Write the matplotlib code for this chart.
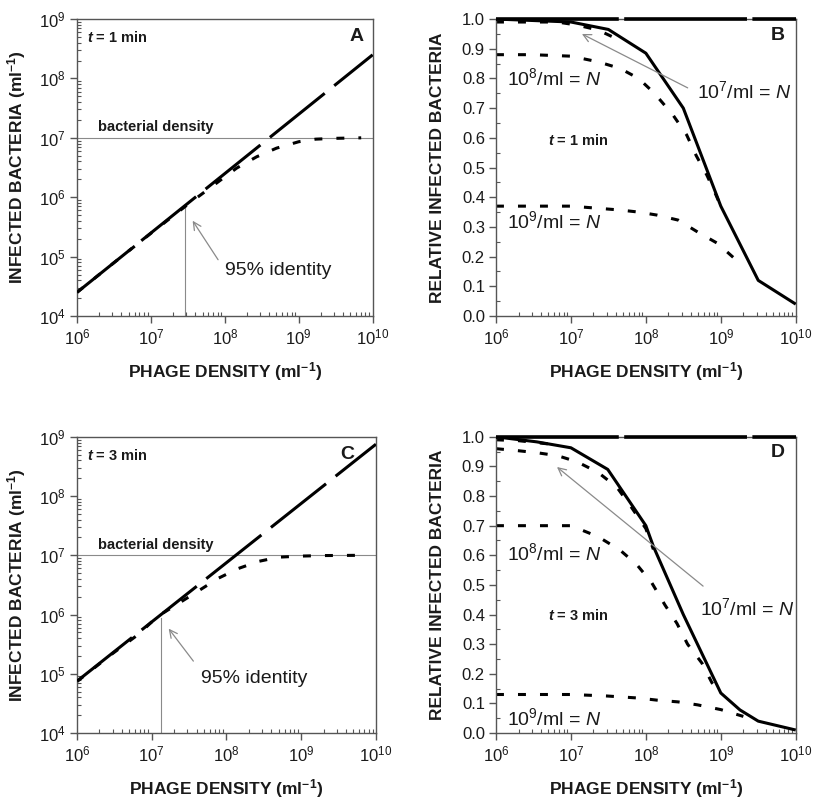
import matplotlib
matplotlib.use("Agg")
import matplotlib.pyplot as plt
from matplotlib.ticker import MultipleLocator, LogLocator, NullFormatter

plt.rcParams['font.family'] = ['Liberation Sans', 'DejaVu Sans']
plt.rcParams['mathtext.fontset'] = 'custom'
plt.rcParams['mathtext.rm'] = 'Liberation Sans'
plt.rcParams['mathtext.it'] = 'Liberation Sans:italic'
plt.rcParams['mathtext.bf'] = 'Liberation Sans:bold'
plt.rcParams['mathtext.bfit'] = 'Liberation Sans:italic:bold'

# ---- panel A / C: infected bacteria vs phage density (t = 1 and 3 min)
lin_x = [1e6, 1e7, 1e8, 1e9, 1e10]
lin_a = [2.5e4, 2.5e5, 2.5e6, 2.5e7, 2.5e8]
lin_c = [7.5e4, 7.5e5, 7.5e6, 7.5e7, 7.5e8]

sat_a_x = [1e6, 3e6, 1e7, 3e7, 1e8, 1.45e8, 2.7e8, 5e8, 1e9, 1.7e9, 3e9, 7e9]
sat_a_y = [2.5e4, 7.5e4, 2.47e5, 7.2e5, 2.2e6, 3.1e6, 4.8e6, 6.7e6, 8.6e6, 9.5e6, 9.8e6, 1e7]
sat_c_x = [1e6, 3e6, 6.6e6, 1.2e7, 2.3e7, 4.2e7, 7.8e7, 1.45e8, 2.7e8, 5e8, 1e9, 2e9, 7e9]
sat_c_y = [7.4e4, 2.2e5, 4.6e5, 9.3e5, 1.55e6, 2.5e6, 4.1e6, 6e6, 7.9e6, 9.3e6, 9.7e6, 9.9e6, 1e7]

bact_density = 1e7
ident_a = (2.9e7, 7.4e5)
ident_c = (1.35e7, 8.7e5)

# ---- panel B / D: relative infected bacteria
flat_x = [1e6, 1e10]
flat_y = [1.0, 1.0]

sol_b_x = [1e6, 1e7, 3.16e7, 1e8, 3.16e8, 1e9, 3.16e9, 1e10]
sol_b_y = [1.0, 0.99, 0.965, 0.885, 0.70, 0.37, 0.12, 0.04]
n7_b_x = [1e6, 2e6, 3.5e6, 6.5e6, 1.2e7, 2.3e7, 3.6e7, 4.5e7]
n7_b_y = [0.99, 0.99, 0.99, 0.99, 0.98, 0.963, 0.94, 0.925]
n8_b_x = [1e6, 3e6, 1e7, 2.3e7, 4.5e7, 8e7, 1.3e8, 2.3e8, 3.5e8, 4.7e8, 6.5e8, 8.4e8, 1e9]
n8_b_y = [0.88, 0.88, 0.875, 0.856, 0.834, 0.80, 0.75, 0.677, 0.61, 0.54, 0.475, 0.414, 0.37]
n9_b_x = [1e6, 1e7, 4.5e7, 8e7, 1.4e8, 2.7e8, 4.9e8, 9e8, 1.7e9, 2e9]
n9_b_y = [0.37, 0.37, 0.357, 0.35, 0.34, 0.323, 0.283, 0.245, 0.183, 0.17]

sol_d_x = [1e6, 3.5e6, 1e7, 3.1e7, 1e8, 1.26e8, 3.16e8, 1e9, 1.8e9, 3.16e9, 1e10]
sol_d_y = [1.0, 0.983, 0.963, 0.89, 0.70, 0.63, 0.40, 0.135, 0.078, 0.04, 0.01]
top_d_x = [1e6, 2e6, 3.6e6, 5e6]
top_d_y = [0.99, 0.987, 0.98, 0.976]
n7_d_x = [1e6, 2e6, 3.6e6, 6.7e6, 1.2e7, 2.3e7, 4.1e7, 6.5e7, 1e8, 1.26e8]
n7_d_y = [0.96, 0.953, 0.946, 0.936, 0.916, 0.88, 0.83, 0.76, 0.69, 0.62]
n8_d_x = [1e6, 3e6, 1e7, 2.3e7, 4.5e7, 7.6e7, 1.2e8, 1.8e8, 2.6e8, 3.6e8, 5.6e8, 7.6e8, 1e9]
n8_d_y = [0.70, 0.70, 0.70, 0.663, 0.618, 0.568, 0.507, 0.432, 0.37, 0.30, 0.236, 0.17, 0.135]
n9_d_x = [1e6, 3e6, 1e7, 3e7, 8e7, 1.4e8, 2.7e8, 4.9e8, 1e9, 2e9]
n9_d_y = [0.13, 0.13, 0.13, 0.125, 0.118, 0.111, 0.105, 0.095, 0.079, 0.056]

LONG = (0, (23, 4))
DOT = (0, (2.6, 4.6))
LW = 2.2
GREY = '#8a8a8a'
INK = '#1a1a1a'


def style_axes(ax):
    for s in ax.spines.values():
        s.set_color('#555555')
        s.set_linewidth(1.0)
    ax.set_xscale('log')
    ax.set_xlim(1e6, 1e10)
    ax.xaxis.set_major_locator(LogLocator(base=10, numticks=10))
    ax.xaxis.set_minor_locator(LogLocator(base=10, subs=range(2, 10), numticks=20))
    ax.xaxis.set_minor_formatter(NullFormatter())
    ax.tick_params(which='major', direction='out', length=5, width=1, color='#555555',
                   labelsize=12, labelcolor=INK, pad=3)
    ax.tick_params(which='minor', direction='in', length=3, width=0.8, color='#555555')
    ax.set_xlabel(r'PHAGE DENSITY (ml$^{\mathbf{-1}}$)', fontsize=12.5, fontweight='bold', color=INK)
    ax.xaxis.set_label_coords(0.5, -0.15)


def count_panel(ax, lin_y, sat_x, sat_y, ident, tlabel, letter, letter_x,
                bd_xy, id_txt, id_arrow_from, id_arrow_to):
    style_axes(ax)
    ax.set_yscale('log')
    ax.set_ylim(1e4, 1e9)
    ax.yaxis.set_major_locator(LogLocator(base=10, numticks=10))
    ax.yaxis.set_minor_locator(LogLocator(base=10, subs=range(2, 10), numticks=20))
    ax.yaxis.set_minor_formatter(NullFormatter())

    ax.axhline(bact_density, color=GREY, lw=0.8, zorder=1)
    ax.plot([ident[0], ident[0]], [1e4, ident[1]], color=GREY, lw=0.8, zorder=1)
    ax.plot(sat_x, sat_y, color='black', lw=LW, linestyle=DOT, zorder=2)
    ax.plot(lin_x, lin_y, color='black', lw=LW, linestyle=LONG, zorder=3)

    ax.text(0.035, 0.923, tlabel, transform=ax.transAxes, fontsize=10.5,
            fontweight='bold', color=INK, va='baseline')
    ax.text(letter_x, 0.94, letter, transform=ax.transAxes, fontsize=14,
            fontweight='bold', color=INK, ha='center', va='center')
    ax.text(bd_xy[0], bd_xy[1], 'bacterial density', fontsize=10.5,
            fontweight='bold', color=INK, va='baseline')
    ax.text(id_txt[0], id_txt[1], '95% identity', fontsize=14, color=INK, va='baseline')
    ax.annotate('', xy=id_arrow_to, xytext=id_arrow_from,
                arrowprops=dict(arrowstyle='->', color=GREY, lw=0.9, mutation_scale=14))
    ax.set_ylabel(r'INFECTED BACTERIA (ml$^{\mathbf{-1}}$)', fontsize=12.5,
                  fontweight='bold', color=INK)
    ax.yaxis.set_label_coords(-0.165, 0.5)


def rel_panel(ax, sol, dotted, labels, tlabel, t_xy, letter, arrow_from, arrow_to):
    style_axes(ax)
    ax.set_ylim(0, 1.0)
    ax.yaxis.set_major_locator(MultipleLocator(0.1))
    ax.yaxis.set_minor_locator(MultipleLocator(0.05))
    ax.yaxis.set_major_formatter(matplotlib.ticker.FormatStrFormatter('%.1f'))

    for dx, dy in dotted:
        ax.plot(dx, dy, color='black', lw=LW, linestyle=DOT, zorder=2)
    ax.plot(sol[0], sol[1], color='black', lw=LW, solid_capstyle='butt', zorder=3)
    ax.plot(flat_x, flat_y, color='black', lw=2.6, linestyle=(0, (34, 1.5)),
            clip_on=False, zorder=4)

    for (x, y, s) in labels:
        ax.text(x, y, s, fontsize=14, color=INK, va='baseline')
    ax.text(t_xy[0], t_xy[1], tlabel, fontsize=10.5, fontweight='bold', color=INK,
            va='baseline')
    ax.text(0.94, 0.946, letter, transform=ax.transAxes, fontsize=14,
            fontweight='bold', color=INK, ha='center', va='center')
    ax.annotate('', xy=arrow_to, xytext=arrow_from,
                arrowprops=dict(arrowstyle='->', color=GREY, lw=0.9, mutation_scale=14))
    ax.set_ylabel('RELATIVE INFECTED BACTERIA', fontsize=12.5, fontweight='bold', color=INK)
    ax.yaxis.set_label_coords(-0.17, 0.5)


fig = plt.figure(figsize=(8.19, 8.07), dpi=100)
axA = fig.add_axes([0.094, 0.6084, 0.361, 0.368])
axB = fig.add_axes([0.6056, 0.6084, 0.366, 0.368])
axC = fig.add_axes([0.094, 0.0917, 0.365, 0.367])
axD = fig.add_axes([0.6056, 0.0917, 0.366, 0.367])

count_panel(axA, lin_a, sat_a_x, sat_a_y, ident_a, r'$\mathbfit{t}$ = 1 min', 'A', 0.946,
            (1.9e6, 1.3e7), (1.0e8, 4.9e4), (8.5e7, 8.1e4), (3.5e7, 4.4e5))
count_panel(axC, lin_c, sat_c_x, sat_c_y, ident_c, r'$\mathbfit{t}$ = 3 min', 'C', 0.903,
            (1.9e6, 1.3e7), (4.6e7, 6.9e4), (3.8e7, 1.5e5), (1.6e7, 6.3e5))

rel_panel(axB, (sol_b_x, sol_b_y),
          [(n7_b_x, n7_b_y), (n8_b_x, n8_b_y), (n9_b_x, n9_b_y)],
          [(1.4e6, 0.778, r'10$^{8}$/ml = $\mathit{N}$'),
           (4.8e8, 0.733, r'10$^{7}$/ml = $\mathit{N}$'),
           (1.4e6, 0.295, r'10$^{9}$/ml = $\mathit{N}$')],
          r'$\mathbfit{t}$ = 1 min', (5e6, 0.575), 'B', (3.9e8, 0.764), (1.3e7, 0.954))
rel_panel(axD, (sol_d_x, sol_d_y),
          [(top_d_x, top_d_y), (n7_d_x, n7_d_y), (n8_d_x, n8_d_y), (n9_d_x, n9_d_y)],
          [(1.4e6, 0.584, r'10$^{8}$/ml = $\mathit{N}$'),
           (5.3e8, 0.399, r'10$^{7}$/ml = $\mathit{N}$'),
           (1.4e6, 0.028, r'10$^{9}$/ml = $\mathit{N}$')],
          r'$\mathbfit{t}$ = 3 min', (5e6, 0.38), 'D', (6.2e8, 0.49), (6.1e6, 0.904))

fig.savefig('out.png', dpi=100)
